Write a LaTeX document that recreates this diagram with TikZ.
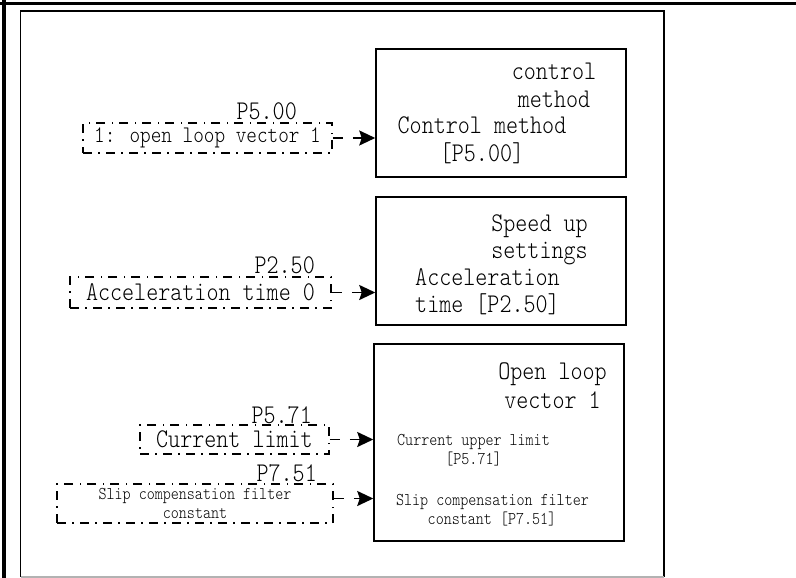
\documentclass[tikz,border=0pt]{standalone}
\usepackage{fontspec}
\newfontfamily\simfont{lmmonolt10-regular}[Extension=.otf,FakeStretch=0.85]
\usetikzlibrary{arrows.meta}
\begin{document}
\begin{tikzpicture}[x=1pt,y=-1pt,
  solidbox/.style={draw, line width=1.5pt, inner sep=0pt},
  dbox/.style={draw, line width=1.8pt, dash pattern=on 9pt off 6pt on 1.5pt off 6.5pt, inner sep=0pt, align=center},
  bigtxt/.style={anchor=base, inner sep=0pt, font=\simfont\fontsize{27pt}{28.5pt}\selectfont},
  midtxt/.style={font=\simfont\fontsize{23.8pt}{26pt}\selectfont},
  smalltxt/.style={anchor=base, inner sep=0pt, font=\simfont\fontsize{18pt}{19pt}\selectfont},
  lbl/.style={anchor=base east, inner sep=0pt, font=\simfont\fontsize{27pt}{28.5pt}\selectfont},
  conn/.style={line width=1.8pt, dash pattern=on 10pt off 10pt, -{Stealth[length=16pt,width=15pt,inset=2.5pt]}}
]
\useasboundingbox (0,0) rectangle (796,578);
\fill[white] (0,0) rectangle (796,578);
% outer frame
\draw[line width=4pt] (4,0) -- (4,578);
\draw[line width=3pt] (0,4) -- (796,4);
% inner frame
\draw[line width=1.2pt] (20.5,577) -- (20.5,11) -- (664,11) -- (664,577);
\draw[line width=1.2pt, gray!60] (20.5,577) -- (664,577);

% right boxes
\node[solidbox, minimum width=250pt, minimum height=128pt] (box1) at (501,113) {};
\node[solidbox, minimum width=250pt, minimum height=128pt] (box2) at (501,261) {};
\node[solidbox, minimum width=250pt, minimum height=197pt] (box3) at (499,442.5) {};

% texts in box 1
\node[bigtxt] (t1a) at (554,80) {control};
\node[bigtxt] (t1b) at (554,108) {method};
\node[bigtxt] (t1c) at (482,133) {Control method};
\node[bigtxt] (t1d) at (482,161) {[P5.00]};
% texts in box 2
\node[bigtxt] (t2a) at (539.5,231) {Speed up};
\node[bigtxt] (t2b) at (539.5,258) {settings};
\node[bigtxt, anchor=base west] (t2c) at (415,285) {Acceleration};
\node[bigtxt, anchor=base west] (t2d) at (415,312) {time [P2.50]};
% texts in box 3
\node[bigtxt] (t3a) at (552.5,379) {Open loop};
\node[bigtxt] (t3b) at (552.5,408) {vector 1};
\node[smalltxt] (t3c) at (473.5,445) {Current upper limit};
\node[smalltxt] (t3d) at (473.5,464) {[P5.71]};
\node[smalltxt] (t3e) at (492.5,505) {Slip compensation filter};
\node[smalltxt] (t3f) at (492,524) {constant [P7.51]};

% dashed parameter boxes
\node[dbox, midtxt, minimum width=249pt, minimum height=30pt] (inA) at (207.5,138) {1: open loop vector 1};
\node[dbox, font=\simfont\fontsize{27pt}{28.5pt}\selectfont, minimum width=261pt, minimum height=31pt] (inB) at (200.5,292.5) {Acceleration time 0};
\node[dbox, font=\simfont\fontsize{27pt}{28.5pt}\selectfont, minimum width=189pt, minimum height=29pt] (inC) at (234.5,439.5) {Current limit};
\node[dbox, font=\simfont\fontsize{18pt}{19pt}\selectfont, minimum width=276pt, minimum height=39pt] (inD) at (195,503.5) {Slip compensation filter\\constant};

% labels
\node[lbl] (lA) at (297,119) {P5.00};
\node[lbl] (lB) at (315,273) {P2.50};
\node[lbl] (lC) at (312,423) {P5.71};
\node[lbl] (lD) at (317,481) {P7.51};

% connectors
\draw[conn] (inA.east) -- (inA.east -| box1.west);
\draw[conn] (inB.east) -- (inB.east -| box2.west);
\draw[conn] (inC.east) -- (inC.east -| box3.west);
\draw[conn] ([yshift=5pt]inD.east) -- ([yshift=5pt]inD.east -| box3.west);
\end{tikzpicture}
\end{document}
